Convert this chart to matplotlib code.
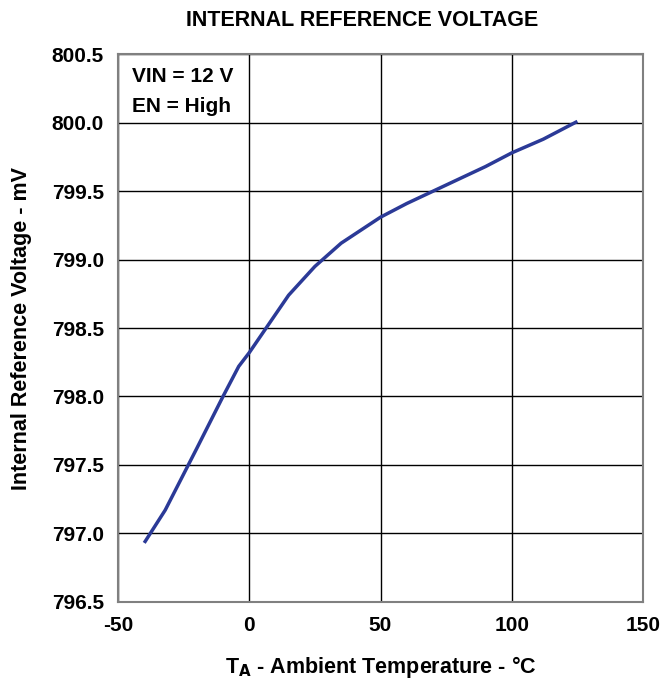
import matplotlib
matplotlib.use('Agg')
import matplotlib.pyplot as plt

# readings
temps = [-40, -32, -20, -10, -4, 0, 5, 15, 25, 35, 50, 60, 70, 80, 90, 100, 112, 125]
vref = [796.93, 797.17, 797.62, 798.0, 798.22, 798.32, 798.46, 798.74, 798.95,
        799.12, 799.31, 799.41, 799.5, 799.59, 799.68, 799.78, 799.88, 800.01]

x_ticks = [-50, 0, 50, 100, 150]
y_ticks = [796.5, 797.0, 797.5, 798.0, 798.5, 799.0, 799.5, 800.0, 800.5]

plt.rcParams['font.family'] = ['Liberation Sans', 'DejaVu Sans']
plt.rcParams['font.weight'] = 'bold'
plt.rcParams['axes.unicode_minus'] = False


def main():
    fig = plt.figure(figsize=(6.61, 6.88), dpi=100)
    ax = fig.add_axes([0.1785, 0.1254, 0.7943, 0.7956])

    ax.plot(temps, vref, color='#2b3a97', lw=2.5, solid_capstyle='butt')

    ax.set_xlim(-50, 150)
    ax.set_ylim(796.5, 800.5)
    ax.set_xticks(x_ticks)
    ax.set_yticks(y_ticks)
    ax.set_yticklabels(['%.1f' % v for v in y_ticks])
    ax.tick_params(length=0, labelsize=15, pad=10)
    for lab in ax.get_xticklabels() + ax.get_yticklabels():
        lab.set_fontweight('bold')
    ax.grid(True, color='black', lw=1)
    for sp in ax.spines.values():
        sp.set_color('#808080')
        sp.set_linewidth(1.5)

    ax.set_xlabel('T$_\\mathbf{A}$ - Ambient Temperature - \u00b0C',
                  fontsize=15.5, fontweight='bold', labelpad=14)
    ax.set_ylabel('Internal Reference Voltage - mV', fontsize=15.5,
                  fontweight='bold', labelpad=14)

    ax.text(-44.5, 800.34, 'VIN = 12 V', fontsize=15, fontweight='bold',
            va='center', ha='left')
    ax.text(-44.5, 800.12, 'EN = High', fontsize=15, fontweight='bold',
            va='center', ha='left')

    fig.suptitle('INTERNAL REFERENCE VOLTAGE', x=0.548, y=0.986,
                 fontsize=15.5, fontweight='bold')

    fig.savefig('out.png', dpi=100)


if __name__ == '__main__':
    main()
